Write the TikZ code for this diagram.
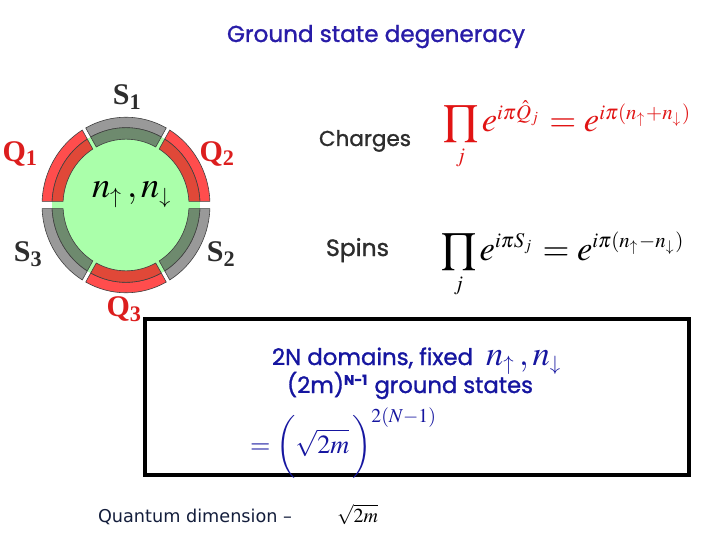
\documentclass[tikz,border=0pt]{standalone}
\usepackage{mathptmx}
\usepackage{graphicx}
\usepackage{fontspec}
\setmainfont{Liberation Serif}
\newfontfamily\comicf[FakeBold=1.2]{Poppins}
\newfontfamily\dejaf{DejaVu Sans}
\DeclareMathSizes{10}{10}{6}{4.5}
\definecolor{ringgreen}{RGB}{170,255,170}
\definecolor{redout}{RGB}{255,77,77}
\definecolor{redin}{RGB}{224,72,56}
\definecolor{grayout}{RGB}{153,153,153}
\definecolor{grayin}{RGB}{110,138,110}
\definecolor{titleblue}{RGB}{40,28,168}
\definecolor{boxblue}{RGB}{22,22,160}
\definecolor{labred}{RGB}{220,30,30}
\definecolor{fred}{RGB}{225,20,20}
\definecolor{darktext}{RGB}{45,45,45}
\definecolor{navytext}{RGB}{20,30,60}
\newcommand\fitw[2]{\resizebox{#1pt}{!}{#2}}
\newcommand\smprod{\mathop{\vcenter{\hbox{\scalebox{0.85}{$\displaystyle\prod$}}}}\limits}
% #1 start, #2 end, #3 gap half at start, #4 gap half at end, #5 Rin, #6 Rout, #7 colour
\newcommand\ringseg[7]{%
  \pgfmathsetmacro\aoA{#1+asin(#3/#6)}%
  \pgfmathsetmacro\aoB{#2-asin(#4/#6)}%
  \pgfmathsetmacro\aiA{#1+asin(#3/#5)}%
  \pgfmathsetmacro\aiB{#2-asin(#4/#5)}%
  \draw[segline, fill=#7] (\aoA:#6) arc[start angle=\aoA, end angle=\aoB, radius=#6]
    -- (\aiB:#5) arc[start angle=\aiB, end angle=\aiA, radius=#5] -- cycle;
}
\begin{document}
\begin{tikzpicture}[x=1pt,y=-1pt,
  txt/.style={inner sep=0pt, outer sep=0pt},
  segline/.style={draw=black!75, line width=0.6pt},
  lab/.style={inner sep=0pt, font=\fontsize{30}{34}\selectfont\bfseries},
  boxframe/.style={draw=black, line width=4pt, inner sep=0pt}]
\fill[white] (0,0) rectangle (720,540);
\useasboundingbox (0,0) rectangle (720,540);

% title
\node[txt, anchor=base west, text=titleblue] (title) at (227,42) {\fitw{298}{\comicf Ground state degeneracy}};

% ring
\begin{scope}[shift={(126,205)}, yscale=-1.045]
  \fill[ringgreen] (0,0) circle[radius=74];
  \ringseg{0}{60}{3.5}{2}{74}{84}{redout}
  \ringseg{0}{60}{3.5}{2}{63}{74}{redin}
  \ringseg{60}{120}{2}{2}{74}{84}{grayout}
  \ringseg{60}{120}{2}{2}{63}{74}{grayin}
  \ringseg{120}{180}{2}{3.5}{74}{84}{redout}
  \ringseg{120}{180}{2}{3.5}{63}{74}{redin}
  \ringseg{180}{240}{3.5}{2}{74}{84}{grayout}
  \ringseg{180}{240}{3.5}{2}{63}{74}{grayin}
  \ringseg{240}{300}{2}{2}{74}{84}{redout}
  \ringseg{240}{300}{2}{2}{63}{74}{redin}
  \ringseg{300}{360}{2}{3.5}{74}{84}{grayout}
  \ringseg{300}{360}{2}{3.5}{63}{74}{grayin}
\end{scope}
\node[txt, anchor=base west] (nn) at (92,198) {\scalebox{3.65}{$n_\uparrow\,,n_\downarrow$}};

% ring labels
\node[lab, text=darktext] (s1) at (127,97) {S\textsubscript{1}};
\node[lab, text=labred] (q1) at (20,154) {Q\textsubscript{1}};
\node[lab, text=labred] (q2) at (217,154) {Q\textsubscript{2}};
\node[lab, text=darktext] (s3) at (28,254) {S\textsubscript{3}};
\node[lab, text=darktext] (s2) at (221,254) {S\textsubscript{2}};
\node[lab, text=labred] (q3) at (124,309) {Q\textsubscript{3}};

% charges / spins
\node[txt, anchor=base west, text=darktext] (charges) at (319,146) {\fitw{92}{\comicf Charges}};
\node[txt, anchor=base west, text=darktext] (spins) at (326,256) {\fitw{63}{\comicf Spins}};
\node[txt, anchor=base west, text=fred] (fq) at (443,132)
  {\fitw{249}{$\smprod_j e^{i\pi \hat{Q}_j} = e^{i\pi(n_\uparrow + n_\downarrow)}$}};
\node[txt, anchor=base west, text=black] (fs) at (441,260)
  {\fitw{244}{$\smprod_j e^{i\pi S_j} = e^{i\pi(n_\uparrow - n_\downarrow)}$}};

% box
\node[boxframe, minimum width=544pt, minimum height=156pt] (box) at (417,397) {};
\node[txt, anchor=base west, text=boxblue] (l1) at (272,365) {\fitw{201}{\comicf 2N domains, fixed}};
\node[txt, anchor=base west, text=boxblue] (l1m) at (486,365) {\scalebox{3.45}{$n_\uparrow\,,n_\downarrow$}};
\node[txt, anchor=base west, text=boxblue] (l2) at (287,393) {\fitw{246}{\comicf (2m)\textsuperscript{\bfseries N-1} ground states}};
\node[txt, anchor=base west, text=boxblue] (l3) at (250,453) {\fitw{187}{\fontsize{12}{14}\selectfont$=\biggl(\sqrt{2m}\,\biggr)^{2(N-1)}$}};

% quantum dimension
\node[txt, anchor=base west, text=navytext] (qd) at (98,522) {\fitw{194}{\dejaf Quantum dimension –}};
\node[txt, anchor=base west, text=black] (qdm) at (337,522) {\fitw{41}{$\sqrt{2m}$}};
\end{tikzpicture}
\end{document}
